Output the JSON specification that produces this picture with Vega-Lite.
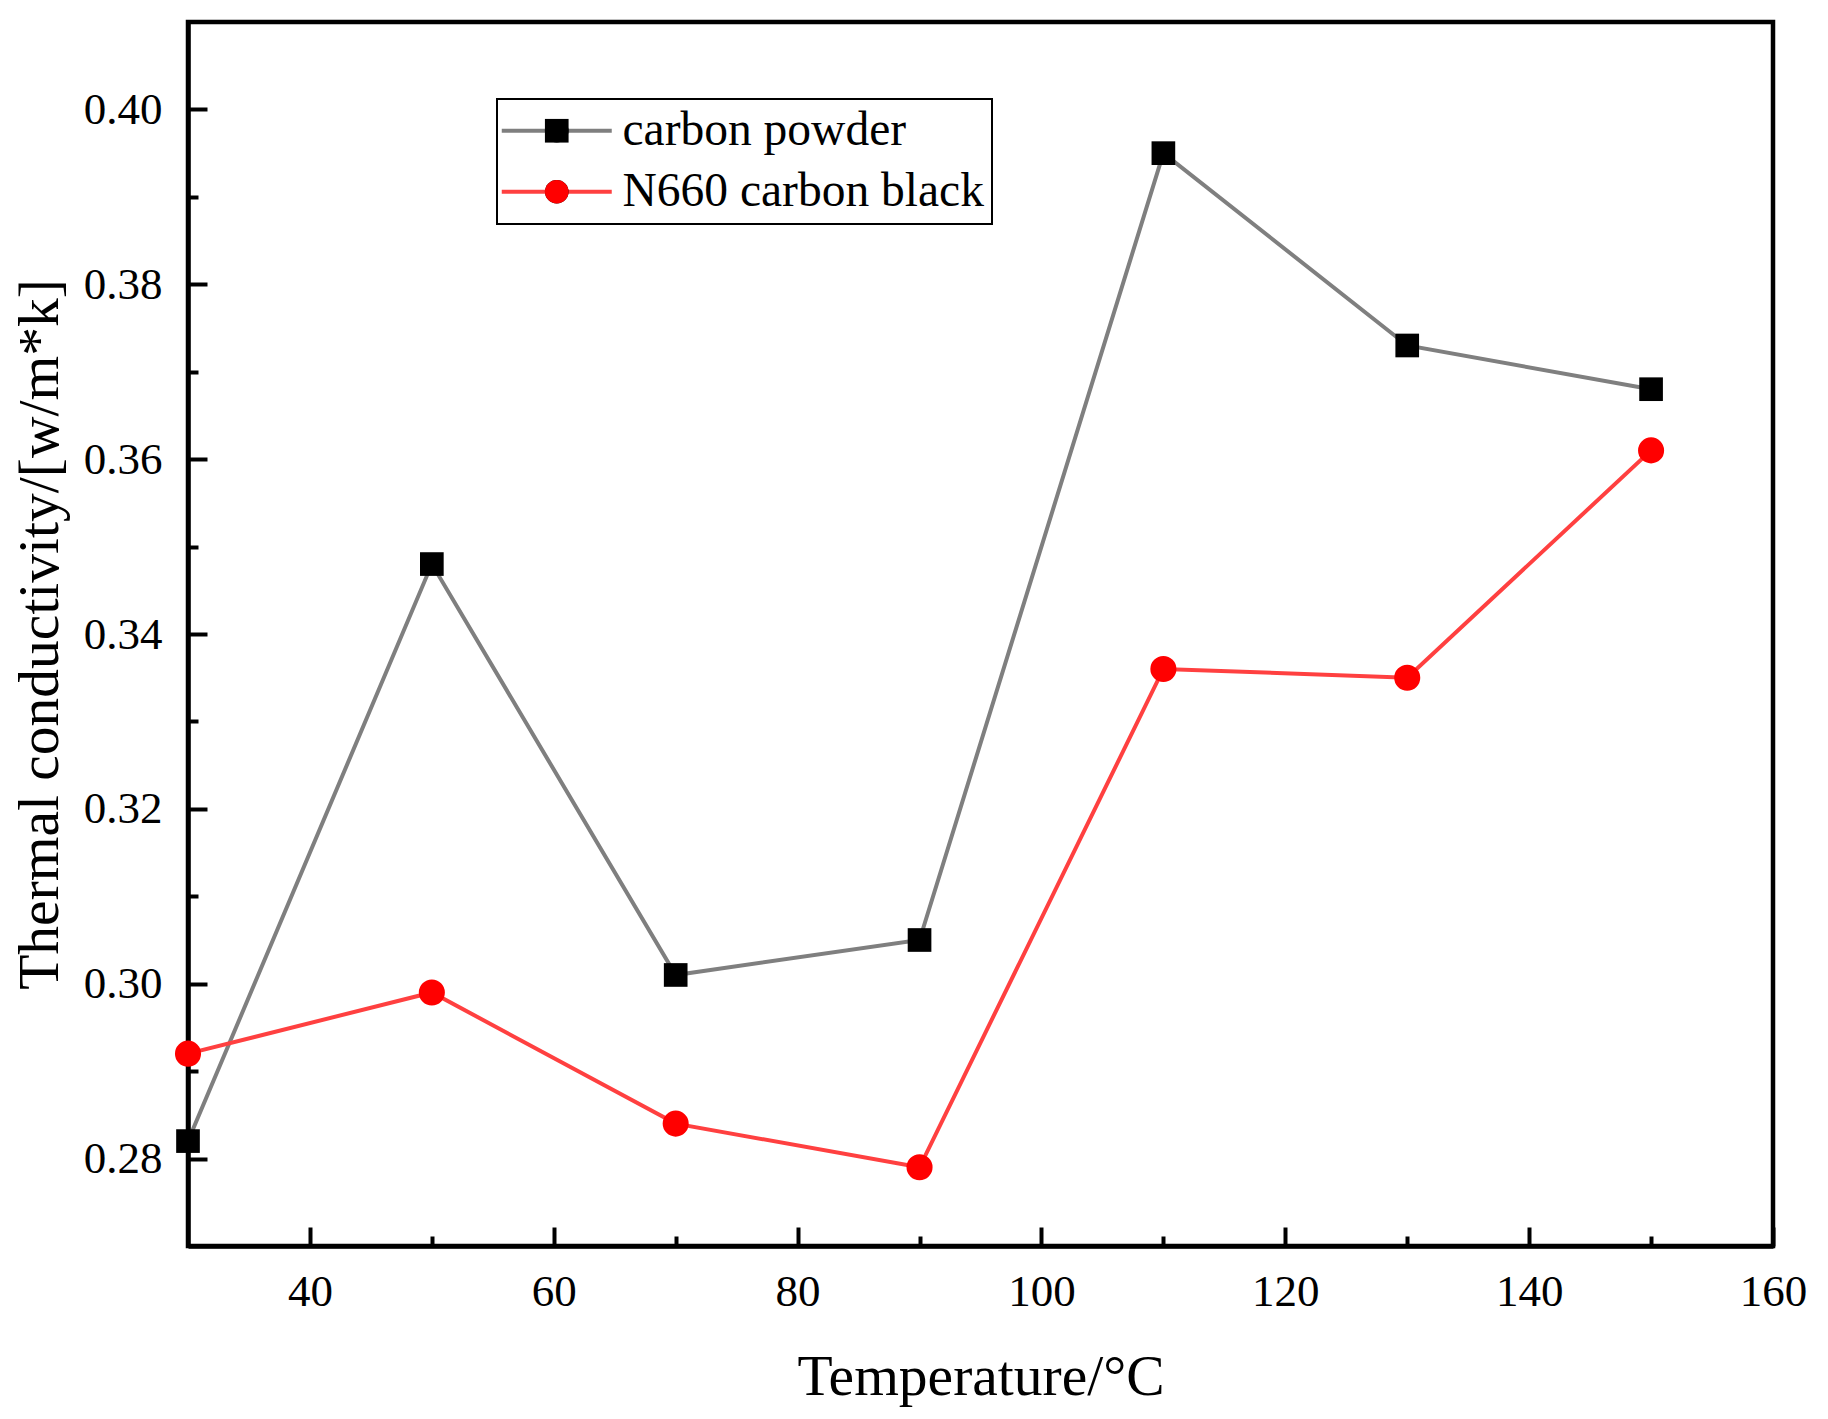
{
  "$schema": "https://vega.github.io/schema/vega-lite/v6.json",
  "width": 1585,
  "height": 1224,
  "autosize": "none",
  "padding": {"left": 188, "top": 22, "right": 55, "bottom": 173},
  "background": "white",
  "config": {
    "font": "Liberation Serif",
    "view": {"stroke": "black", "strokeWidth": 4.5},
    "legend": {"strokeWidth": 2},
    "axis": {
      "grid": false,
      "domainColor": "black",
      "domainWidth": 4.5,
      "tickColor": "black",
      "tickWidth": 4,
      "labelFont": "Liberation Serif",
      "labelFontSize": 45,
      "labelColor": "black",
      "labelFlush": false,
      "labelOverlap": false,
      "titleFont": "Liberation Serif",
      "titleFontSize": 57.5,
      "titleFontWeight": "normal",
      "titleColor": "black"
    }
  },
  "data": {
    "values": [
      {"temperature": 30, "series": "carbon powder", "conductivity": 0.282},
      {"temperature": 50, "series": "carbon powder", "conductivity": 0.348},
      {"temperature": 70, "series": "carbon powder", "conductivity": 0.301},
      {"temperature": 90, "series": "carbon powder", "conductivity": 0.305},
      {"temperature": 110, "series": "carbon powder", "conductivity": 0.395},
      {"temperature": 130, "series": "carbon powder", "conductivity": 0.373},
      {"temperature": 150, "series": "carbon powder", "conductivity": 0.368},
      {"temperature": 30, "series": "N660 carbon black", "conductivity": 0.292},
      {"temperature": 50, "series": "N660 carbon black", "conductivity": 0.299},
      {"temperature": 70, "series": "N660 carbon black", "conductivity": 0.284},
      {"temperature": 90, "series": "N660 carbon black", "conductivity": 0.279},
      {"temperature": 110, "series": "N660 carbon black", "conductivity": 0.336},
      {"temperature": 130, "series": "N660 carbon black", "conductivity": 0.335},
      {"temperature": 150, "series": "N660 carbon black", "conductivity": 0.361}
    ]
  },
  "layer": [
    {
      "mark": {"type": "line", "strokeWidth": 4},
      "encoding": {
        "x": {
          "field": "temperature",
          "type": "quantitative",
          "scale": {"domain": [30, 160], "nice": false, "zero": false},
          "axis": {
            "orient": "bottom",
            "values": [40, 60, 80, 100, 120, 140, 160],
            "tickSize": -19,
            "labelPadding": 42,
            "title": "Temperature/°C",
            "titlePadding": 35
          }
        },
        "y": {
          "field": "conductivity",
          "type": "quantitative",
          "scale": {"domain": [0.27, 0.41], "nice": false, "zero": false},
          "axis": {
            "orient": "left",
            "values": [0.28, 0.30, 0.32, 0.34, 0.36, 0.38, 0.40],
            "format": ".2f",
            "tickSize": -19,
            "labelPadding": 45,
            "title": "Thermal conductivity/[w/m*k]",
            "titlePadding": 14
          }
        },
        "stroke": {
          "field": "series",
          "type": "nominal",
          "scale": {"domain": ["carbon powder", "N660 carbon black"], "range": ["#7f7f7f", "#ff4040"]},
          "legend": {
            "orient": "none",
            "legendX": 309,
            "legendY": 77,
            "title": null,
            "symbolType": "M-5,0L5,0",
            "symbolSize": 484,
            "symbolStrokeWidth": 4,
            "symbolOffset": 28,
            "labelFont": "Liberation Serif",
            "labelFontSize": 47.5,
            "labelColor": "black",
            "labelOffset": 42,
            "labelLimit": 0,
            "padding": 8,
            "rowPadding": 12,
            "strokeColor": "black",
            "fillColor": "white"
          }
        }
      }
    },
    {
      "mark": {"type": "point", "filled": true, "opacity": 1, "strokeWidth": 0},
      "encoding": {
        "x": {
          "field": "temperature",
          "type": "quantitative",
          "axis": {
            "orient": "bottom",
            "values": [50, 70, 90, 110, 130, 150],
            "domain": false,
            "labels": false,
            "tickSize": -10,
            "title": null
          }
        },
        "y": {
          "field": "conductivity",
          "type": "quantitative",
          "axis": {
            "orient": "left",
            "values": [0.29, 0.31, 0.33, 0.35, 0.37, 0.39],
            "domain": false,
            "labels": false,
            "tickSize": -10,
            "title": null
          }
        },
        "fill": {
          "field": "series",
          "type": "nominal",
          "sort": ["carbon powder", "N660 carbon black"],
          "scale": {"range": ["#000000", "#ff0000"]},
          "legend": {
            "orient": "none",
            "legendX": 309,
            "legendY": 77,
            "title": null,
            "symbolSize": 560,
            "symbolStrokeWidth": 0,
            "symbolOffset": 28,
            "labelFontSize": 47.5,
            "labelExpr": "''",
            "labelLimit": 0,
            "padding": 8,
            "rowPadding": 12
          }
        },
        "shape": {
          "field": "series",
          "type": "nominal",
          "sort": ["carbon powder", "N660 carbon black"],
          "scale": {"range": ["square", "circle"]},
          "legend": {
            "orient": "none",
            "legendX": 309,
            "legendY": 77,
            "title": null,
            "symbolSize": 560,
            "symbolStrokeWidth": 0,
            "symbolOffset": 28,
            "labelFontSize": 47.5,
            "labelExpr": "''",
            "labelLimit": 0,
            "padding": 8,
            "rowPadding": 12
          }
        },
        "size": {
          "condition": {"test": "datum.series === 'carbon powder'", "value": 560},
          "value": 680
        }
      }
    }
  ],
  "resolve": {"axis": {"x": "independent", "y": "independent"}}
}
